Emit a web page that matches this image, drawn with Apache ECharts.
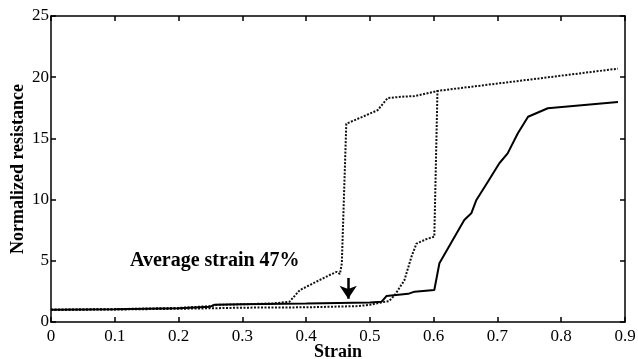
<!DOCTYPE html>
<html>
<head>
<meta charset="utf-8">
<script src="https://cdn.jsdelivr.net/npm/echarts@6/dist/echarts.min.js"></script>
<style>html,body{margin:0;padding:0;background:#fff}#c{width:638px;height:359px}</style>
</head>
<body>
<div id="c"></div>
<script>
// Dotted curve that jumps first (~0.46 strain)
var strainA = [0, 0.1, 0.2, 0.25, 0.26, 0.3, 0.35, 0.374, 0.39, 0.411, 0.437, 0.448, 0.453, 0.456, 0.463, 0.49, 0.512, 0.528, 0.549, 0.57, 0.609, 0.75, 0.889];
var resistA = [1.0, 1.05, 1.15, 1.3, 1.4, 1.45, 1.52, 1.66, 2.6, 3.16, 3.84, 4.1, 3.92, 4.8, 16.2, 16.8, 17.3, 18.3, 18.4, 18.46, 18.9, 19.8, 20.7];
// Dotted curve that jumps at ~0.6 strain
var strainB = [0, 0.1, 0.2, 0.25, 0.3, 0.4, 0.48, 0.5, 0.518, 0.53, 0.539, 0.554, 0.565, 0.573, 0.588, 0.601, 0.606];
var resistB = [1.0, 1.02, 1.08, 1.12, 1.17, 1.2, 1.3, 1.4, 1.6, 1.7, 2.2, 3.4, 5.3, 6.4, 6.76, 6.97, 19.0];
// Solid curve
var strainC = [0, 0.1, 0.2, 0.25, 0.256, 0.3, 0.4, 0.5, 0.518, 0.526, 0.56, 0.57, 0.601, 0.609, 0.627, 0.648, 0.659, 0.667, 0.685, 0.703, 0.716, 0.732, 0.748, 0.779, 0.889];
var resistC = [1.0, 1.05, 1.12, 1.25, 1.4, 1.45, 1.52, 1.6, 1.65, 2.12, 2.3, 2.48, 2.61, 4.8, 6.43, 8.33, 8.88, 9.97, 11.46, 12.97, 13.78, 15.42, 16.77, 17.46, 17.97];
// Annotation
var avgStrain = 0.466;
var arrowFrom = 3.6, arrowTo = 1.9;
var annotationText = 'Average strain 47%';
var xTicks = [0, 0.9, 0.1];
var yTicks = [0, 25, 5];

function zip(xs, ys) { return xs.map(function (x, i) { return [x, ys[i]]; }); }

var font = '"Liberation Serif", "Times New Roman", serif';
var chart = echarts.init(document.getElementById('c'), null, {renderer: 'canvas'});
var axisCommon = {
  axisLine: {show: true, onZero: false, lineStyle: {color: '#000', width: 1.5}},
  axisTick: {show: true, inside: true, length: 5, lineStyle: {color: '#000', width: 1.5}},
  splitLine: {show: false}
};
chart.setOption({
  animation: false,
  backgroundColor: '#fff',
  grid: {left: 51, right: 13, top: 16, bottom: 37, containLabel: false, outerBoundsMode: 'none'},
  xAxis: [
    Object.assign({
      type: 'value', min: xTicks[0], max: xTicks[1], interval: xTicks[2], position: 'bottom',
      name: 'Strain', nameLocation: 'middle', nameGap: 21, nameMoveOverlap: false,
      nameTextStyle: {fontFamily: font, fontWeight: 'bold', fontSize: 18, color: '#000'},
      axisLabel: {margin: 6, fontFamily: font, fontSize: 17, color: '#000'}
    }, axisCommon),
    Object.assign({
      type: 'value', min: xTicks[0], max: xTicks[1], interval: xTicks[2], position: 'top',
      axisLabel: {show: false}
    }, axisCommon)
  ],
  yAxis: [
    Object.assign({
      type: 'value', min: yTicks[0], max: yTicks[1], interval: yTicks[2], position: 'left',
      name: 'Normalized resistance', nameLocation: 'middle', nameGap: 24, nameMoveOverlap: false,
      nameTextStyle: {fontFamily: font, fontWeight: 'bold', fontSize: 18, color: '#000'},
      axisLabel: {margin: 2, fontFamily: font, fontSize: 17, color: '#000'}
    }, axisCommon),
    Object.assign({
      type: 'value', min: yTicks[0], max: yTicks[1], interval: yTicks[2], position: 'right',
      axisLabel: {show: false}
    }, axisCommon)
  ],
  graphic: [{
    type: 'text', left: 130, top: 251,
    style: {text: annotationText, font: 'bold 20px ' + font, fill: '#000'}
  }],
  series: [
    {type: 'line', data: zip(strainA, resistA), symbol: 'none', silent: true,
     lineStyle: {color: '#111', width: 2, type: [2, 1.5]}},
    {type: 'line', data: zip(strainB, resistB), symbol: 'none', silent: true,
     lineStyle: {color: '#111', width: 2, type: [2, 1.5]}},
    {type: 'line', data: zip(strainC, resistC), symbol: 'none', silent: true,
     lineStyle: {color: '#000', width: 2, type: 'solid'},
     markLine: {silent: true, symbol: ['none', 'arrow'], symbolSize: [13, 13],
       label: {show: false},
       lineStyle: {color: '#000', width: 2.5, type: 'solid'},
       data: [[{coord: [avgStrain, arrowFrom]}, {coord: [avgStrain, arrowTo]}]]}}
  ]
});
</script>
</body>
</html>
